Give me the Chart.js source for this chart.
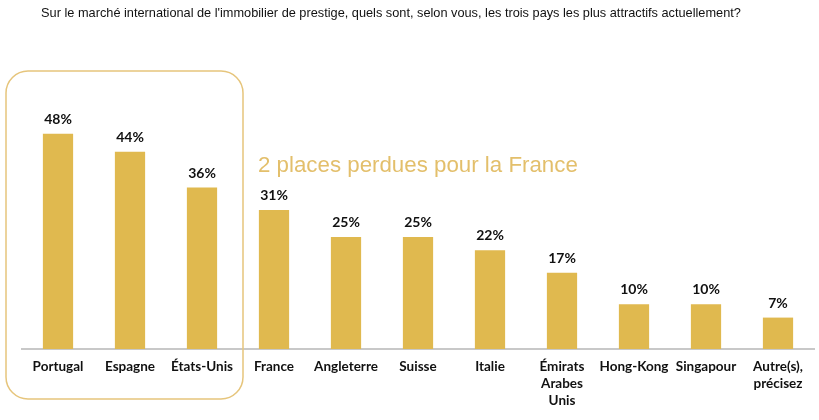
<!DOCTYPE html>
<html>
<head>
<meta charset="utf-8">
<script src="https://cdn.jsdelivr.net/npm/chart.js@4/dist/chart.umd.min.js"></script>
<style>
html,body{margin:0;padding:0;background:#fff;}
#wrap{width:819px;height:420px;position:relative;}
</style>
</head>
<body>
<div id="wrap"><canvas id="c" width="819" height="420"></canvas></div>
<script>
const titleText = "Sur le marché international de l'immobilier de prestige, quels sont, selon vous, les trois pays les plus attractifs actuellement?";
const annotationText = "2 places perdues pour la France";
const categories = [["Portugal"],["Espagne"],["États-Unis"],["France"],["Angleterre"],["Suisse"],["Italie"],["Émirats","Arabes","Unis"],["Hong-Kong"],["Singapour"],["Autre(s),","précisez"]];
const values = [48,44,36,31,25,25,22,17,10,10,7];
const highlighted = [0,1,2];

const gold = '#E0B94F';

const overlay = {
  id:'overlay',
  afterDatasetsDraw(chart){
    const ctx = chart.ctx;
    const meta = chart.getDatasetMeta(0);
    const xs = chart.scales.x;
    ctx.save();
    // value labels
    ctx.font = 'bold 14px Lato, "Open Sans", sans-serif';
    ctx.fillStyle = '#111';
    ctx.textAlign = 'center';
    ctx.textBaseline = 'alphabetic';
    meta.data.forEach((b,i)=>{
      ctx.fillText(values[i]+'%', b.x, b.y - 10);
    });
    // title
    ctx.font = '12.75px "Liberation Sans", Arial, sans-serif';
    ctx.fillStyle = '#111';
    ctx.fillText(titleText, 391, 17);
    // annotation
    ctx.font = '22.3px "Liberation Sans", Arial, sans-serif';
    ctx.fillStyle = '#E3BF6B';
    ctx.textAlign = 'left';
    ctx.fillText(annotationText, 258, 172);
    // highlight box
    const x0 = xs.getPixelForValue(highlighted[0]) - 52;
    const x1 = xs.getPixelForValue(highlighted[highlighted.length-1]) + 41;
    const y0 = 71, y1 = 399, r = 22;
    ctx.strokeStyle = '#E6C57C';
    ctx.lineWidth = 1.5;
    ctx.beginPath();
    ctx.roundRect(x0, y0, x1-x0, y1-y0, r);
    ctx.stroke();
    ctx.restore();
  }
};

new Chart(document.getElementById('c'), {
  type:'bar',
  data:{
    labels: categories,
    datasets:[{data: values, backgroundColor: gold, borderWidth:0, barPercentage:0.42, categoryPercentage:1}]
  },
  options:{
    responsive:false,
    animation:false,
    layout:{padding:{left:22,right:5,top:80,bottom:2}},
    plugins:{legend:{display:false},tooltip:{enabled:false},title:{display:false}},
    scales:{
      x:{
        grid:{display:false, drawTicks:false},
        border:{display:true,color:'#C8C8C8',width:2},
        ticks:{color:'#111',font:{family:'Lato, "Open Sans", sans-serif',weight:'bold',size:13.5,lineHeight:1.26},padding:9,maxRotation:0,autoSkip:false}
      },
      y:{display:false,min:0,max:60}
    }
  },
  plugins:[overlay]
});
</script>
</body>
</html>
